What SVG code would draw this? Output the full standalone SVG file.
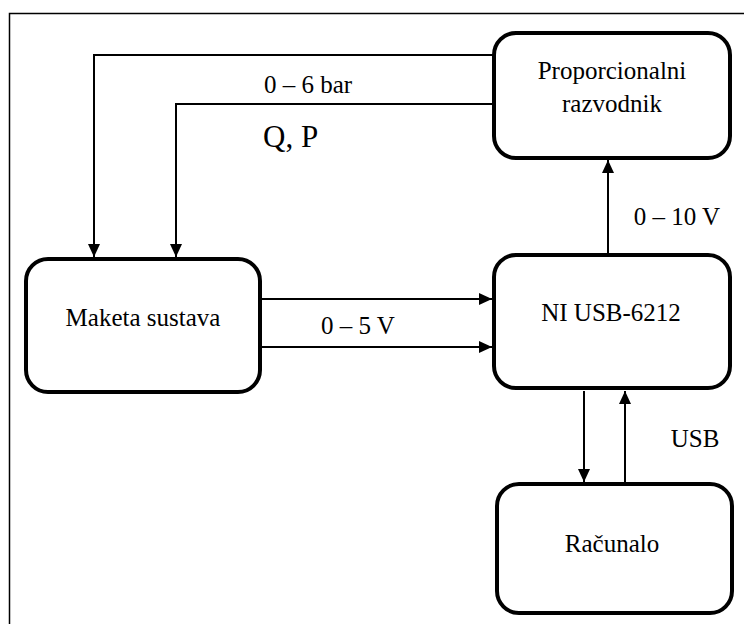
<svg xmlns="http://www.w3.org/2000/svg" width="744" height="624" viewBox="0 0 744 624">
<style>
.box{fill:#fff;stroke:#000;stroke-width:4}
.ln{fill:none;stroke:#000;stroke-width:2}
.t{font-family:'Liberation Serif','Times New Roman',serif;font-size:25px;fill:#000}
.m{text-anchor:middle}
</style>
<defs>
<marker id="ah" markerUnits="userSpaceOnUse" markerWidth="14" markerHeight="12" refX="13" refY="6" orient="auto">
<path d="M0,0 L13,6 L0,12 Z" fill="#000"/>
</marker>
</defs>
<rect width="744" height="624" fill="#fff"/>
<rect x="9.5" y="13.5" width="800" height="800" fill="none" stroke="#000" stroke-width="1.5"/>
<g id="connectors">
<path class="ln" d="M494,55 H94 V257" marker-end="url(#ah)"/>
<path class="ln" d="M494,104 H176 V257" marker-end="url(#ah)"/>
<path class="ln" d="M261,299 H492" marker-end="url(#ah)"/>
<path class="ln" d="M261,347 H492" marker-end="url(#ah)"/>
<path class="ln" d="M608,253 V160" marker-end="url(#ah)"/>
<path class="ln" d="M584,391 V482" marker-end="url(#ah)"/>
<path class="ln" d="M625,482 V391" marker-end="url(#ah)"/>
<text class="t m" x="308" y="93">0 – 6 bar</text>
<text class="t" x="263" y="147" style="font-size:31px">Q, P</text>
<text class="t m" x="358" y="334">0 – 5 V</text>
<text class="t m" x="677" y="225">0 – 10 V</text>
<text class="t m" x="695" y="447">USB</text>
</g>
<g id="proporcionalni">
<rect class="box" x="494" y="33" width="236" height="125" rx="22"/>
<text class="t m" x="612" y="79">Proporcionalni</text>
<text class="t m" x="612" y="112">razvodnik</text>
</g>
<g id="maketa">
<rect class="box" x="26" y="259" width="234" height="133" rx="22"/>
<text class="t m" x="143" y="326">Maketa sustava</text>
</g>
<g id="ni">
<rect class="box" x="494" y="255" width="236" height="133" rx="22"/>
<text class="t m" x="611" y="321">NI USB-6212</text>
</g>
<g id="racunalo">
<rect class="box" x="497" y="484" width="235" height="129" rx="22"/>
<text class="t m" x="612" y="552">Računalo</text>
</g>
</svg>
